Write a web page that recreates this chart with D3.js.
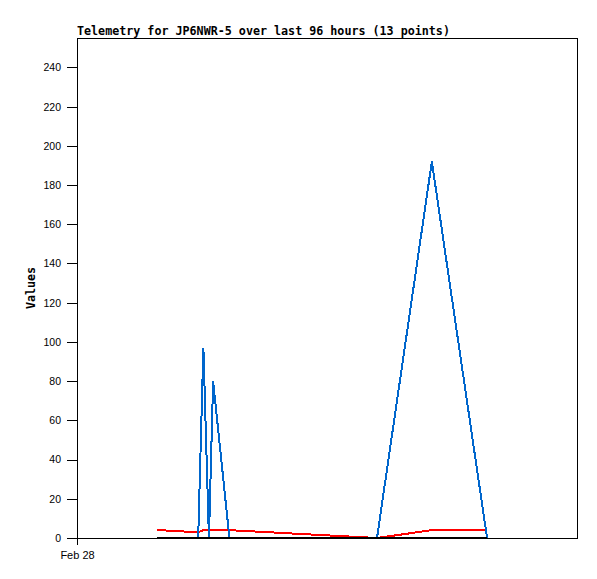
<!DOCTYPE html>
<html>
<head>
<meta charset="utf-8">
<script src="https://cdn.jsdelivr.net/npm/d3@7"></script>
<style>
  body { margin: 0; background: #fff; }
  svg { display: block; }
</style>
</head>
<body>
<div id="chart"></div>
<script>
const MARGIN = { TOP: 38, BOTTOM: 41, LEFT: 77, RIGHT: 20 };
const WIDTH = 500, HEIGHT = 500;

// sample times (Feb 28) and channel values
const times = ['03:50', '05:49', '06:04', '06:20', '06:32', '07:19', '14:24', '17:02', '19:41'];
const blueVals = [0, 0, 97, 0, 80, 0, 0, 192, 0];
const redVals = [4.1, 2.9, 4, 4, 4, 4, 0, 4, 4];
const blackVals = [0, 0, 0, 0, 0, 0, 0, 0, 0];
const yTicks = [0, 20, 40, 60, 80, 100, 120, 140, 160, 180, 200, 220, 240];
const xTickLabels = ['Feb 28'];

const parse = d3.timeParse('%Y-%m-%d %H:%M');
const dates = times.map(t => parse('2023-02-28 ' + t));

const svg = d3.select('#chart')
  .append('svg')
    .attr('width', WIDTH + MARGIN.LEFT + MARGIN.RIGHT)
    .attr('height', HEIGHT + MARGIN.TOP + MARGIN.BOTTOM)
  .append('g')
    .attr('transform', `translate(${MARGIN.LEFT}, ${MARGIN.TOP})`);

const x = d3.scaleTime()
  .domain([parse('2023-02-28 00:00'), parse('2023-03-01 00:00')])
  .range([0, WIDTH]);
const y = d3.scaleLinear()
  .domain([0, 255])
  .range([HEIGHT, 0]);

// title
svg.append('text')
  .attr('x', 0)
  .attr('y', -3)
  .attr('font-family', 'DejaVu Sans Mono, monospace')
  .attr('font-weight', 'bold')
  .attr('font-size', 11.7)
  .text('Telemetry for JP6NWR-5 over last 96 hours (13 points)');

// y axis
const yAxisCall = d3.axisLeft(y)
  .tickValues(yTicks)
  .tickSize(10)
  .tickPadding(6);
const yAxisGroup = svg.append('g').call(yAxisCall);
yAxisGroup.select('.domain').remove();
yAxisGroup.selectAll('text')
  .attr('font-family', 'Liberation Sans, Arial, sans-serif')
  .attr('font-size', 10.5)
  .attr('fill', '#000');
yAxisGroup.selectAll('line').attr('stroke', '#000').attr('shape-rendering', 'crispEdges');

// x axis
const xAxisCall = d3.axisBottom(x)
  .tickValues([parse('2023-02-28 00:00')])
  .tickFormat((d, i) => xTickLabels[i])
  .tickSize(7)
  .tickPadding(6);
const xAxisGroup = svg.append('g')
  .attr('transform', `translate(0, ${HEIGHT})`)
  .call(xAxisCall);
xAxisGroup.select('.domain').remove();
xAxisGroup.selectAll('text')
  .attr('font-family', 'Liberation Sans, Arial, sans-serif')
  .attr('font-size', 11)
  .attr('fill', '#000');
xAxisGroup.selectAll('line').attr('stroke', '#000').attr('shape-rendering', 'crispEdges');

// y label
svg.append('text')
  .attr('transform', `translate(-42, ${HEIGHT / 2}) rotate(-90)`)
  .attr('text-anchor', 'middle')
  .attr('font-family', 'DejaVu Sans Mono, monospace')
  .attr('font-weight', 'bold')
  .attr('font-size', 11.7)
  .text('Values');

// frame
svg.append('rect')
  .attr('x', 0.5)
  .attr('y', 0.5)
  .attr('width', WIDTH)
  .attr('height', HEIGHT)
  .attr('fill', 'none')
  .attr('stroke', '#000')
  .attr('shape-rendering', 'crispEdges');

const line = d3.line()
  .x(d => x(d[0]))
  .y(d => y(d[1]));

const series = [
  { vals: redVals, color: '#ff0000' },
  { vals: blueVals, color: '#0066cc' },
  { vals: blackVals, color: '#000000' }
];

series.forEach(s => {
  svg.append('path')
    .attr('d', line(dates.map((d, i) => [d, s.vals[i]])))
    .attr('fill', 'none')
    .attr('stroke', s.color)
    .attr('stroke-width', 2)
    .attr('shape-rendering', 'crispEdges');
});
</script>
</body>
</html>
